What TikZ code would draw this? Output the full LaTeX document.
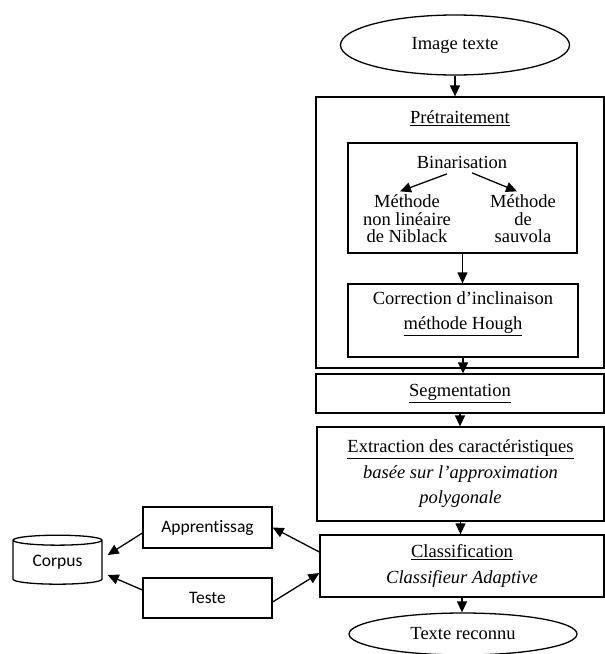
\documentclass[tikz,border=0pt]{standalone}
\usepackage{fontspec}
\setmainfont{Liberation Serif}
\newfontfamily\calib[Ligatures=NoCommon]{Carlito}
\usetikzlibrary{arrows.meta,shapes.geometric}

\begin{document}
\begin{tikzpicture}[x=1pt,y=-1pt,line width=1.3pt,
		box/.style={draw,rectangle,inner sep=0pt,align=center,font=\fontsize{18.5}{25.5}\selectfont},
		oval/.style={draw,ellipse,inner sep=0pt,font=\fontsize{18.5}{25}\selectfont},
		txt/.style={inner sep=0pt,align=center,font=\fontsize{18.5}{17.5}\selectfont},
		sbox/.style={draw,rectangle,inner sep=0pt,font=\calib\fontsize{17.5}{20}\selectfont},
		arr/.style={-{Triangle[length=11pt,width=10pt]}}]
		\useasboundingbox (0,0) rectangle (605,654);
		% chaine principale
		\node[oval,minimum width=229,minimum height=60] (img) at (455,45) {Image texte};
		\node[box,minimum width=288,minimum height=271] (pre) at (460,232.5) {};
		\node[txt] (pretitle) at (460,118) {\underline{Prétraitement}};
		\node[box,minimum width=229,minimum height=110] (bin) at (462.5,198) {};
		\node[txt] (bintxt) at (462,162) {Binarisation};
		\node[txt] (niblack) at (407,219) {Méthode\\non linéaire\\de Niblack};
		\node[txt] (sauvola) at (523,219) {Méthode\\de\\sauvola};
		\node[box,minimum width=230,minimum height=73] (corr) at (463,320.5) {Correction d’inclinaison\\\underline{méthode Hough}\\[-6pt]};
		\node[box,minimum width=288,minimum height=39] (seg) at (460,393.5) {\underline{Segmentation}};
		\node[box,minimum width=287,minimum height=94] (ext) at (460.5,474) {\underline{Extraction des caractéristiques}\\\textit{basée sur l’approximation}\\\textit{polygonale}};
		\node[box,minimum width=284,minimum height=62] (cls) at (462,566) {\underline{Classification}\\\textit{Classifieur Adaptive}};
		\node[oval,minimum width=228,minimum height=42] (res) at (463,634) {Texte reconnu};
		% partie gauche
		\node[sbox,minimum width=129,minimum height=41] (appr) at (207.5,527.5) {Apprentissag};
		\node[sbox,minimum width=129,minimum height=40] (teste) at (207.5,598) {Teste};
		\node[draw,cylinder,shape border rotate=90,aspect=0.2,inner sep=0pt,minimum width=89,minimum height=49,font=\calib\fontsize{17.5}{20}\selectfont] (corpus) at (57.5,562.5) {Corpus};
		\draw[arr] (img.south) -- (img.south |- pre.north);
		\draw[arr] ([xshift=-15pt,yshift=-5pt]bintxt.south) -- ([xshift=-7pt,yshift=3pt]niblack.north);
		\draw[arr] ([xshift=10pt,yshift=-4pt]bintxt.south) -- ([xshift=-6pt,yshift=3pt]sauvola.north);
		\draw[arr] (bin.south) -- (bin.south |- corr.north);
		\foreach \a/\b in {corr/seg,seg/ext,ext/cls,cls/res}
		{
			\draw[arr] (\a.south) -- (\a.south |- \b.north);
		}
		\draw[arr] ([yshift=14pt]cls.west) -- (appr.east);
		\draw[arr] ([yshift=-4pt]teste.east) -- ([yshift=-7pt]cls.west);
		\draw[arr] ([yshift=-5.5pt]appr.west) -- ([xshift=5pt,yshift=7.5pt]corpus.east);
		\draw[arr] ([yshift=8pt]teste.west) -- ([xshift=5pt,yshift=-12.5pt]corpus.east);
\end{tikzpicture}
\end{document}
